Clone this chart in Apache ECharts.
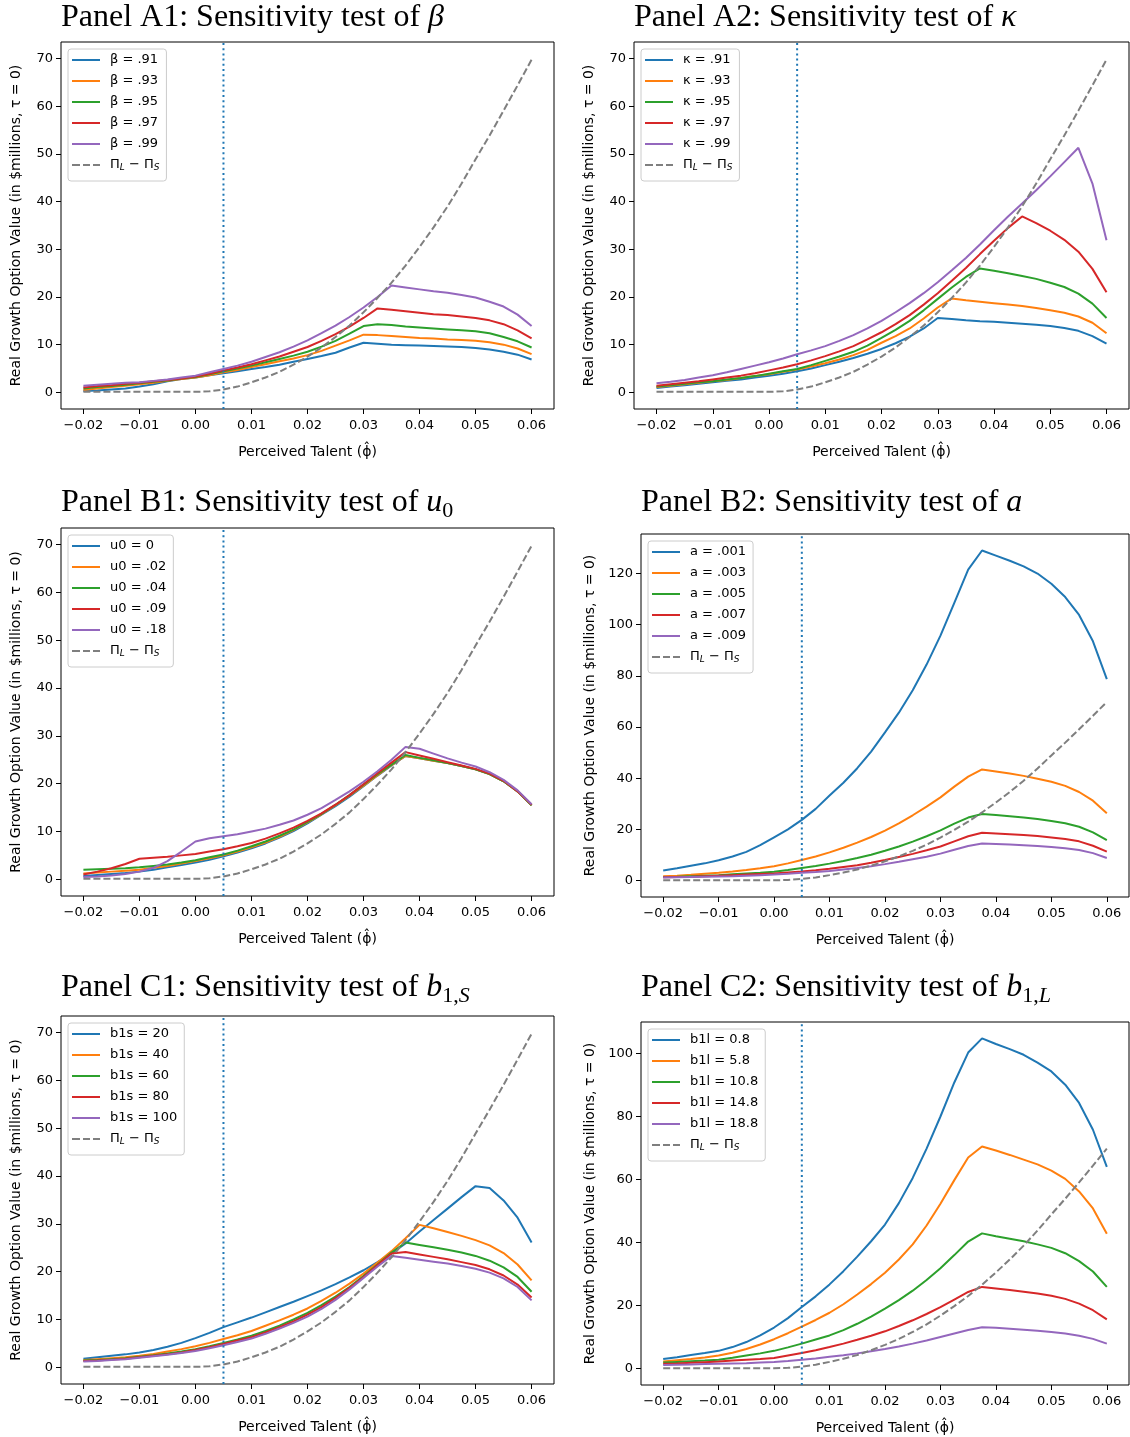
<!DOCTYPE html>
<html>
<head>
<meta charset="utf-8">
<script src="https://cdn.jsdelivr.net/npm/echarts@6/dist/echarts.min.js"></script>
<style>
  html, body { margin: 0; padding: 0; background: #fff; }
  #chart { width: 1130px; height: 1437px; }
</style>
</head>
<body>
<div id="chart"></div>
<script>
// Perceived talent grid (x values shared by every panel)
const X = [-0.02, -0.0175, -0.015, -0.0125, -0.01, -0.0075, -0.005, -0.0025, 0, 0.0025, 0.005,
           0.0075, 0.01, 0.0125, 0.015, 0.0175, 0.02, 0.0225, 0.025, 0.0275, 0.03, 0.0325,
           0.035, 0.0375, 0.04, 0.0425, 0.045, 0.0475, 0.05, 0.0525, 0.055, 0.0575, 0.06];
const X_TICKS = [-0.02, -0.01, 0, 0.01, 0.02, 0.03, 0.04, 0.05, 0.06];
const Y_TICKS_70 = [0, 10, 20, 30, 40, 50, 60, 70];
const Y_TICKS_120 = [0, 20, 40, 60, 80, 100, 120];
const Y_TICKS_100 = [0, 20, 40, 60, 80, 100];
const THRESHOLD = 0.005;

// Pi_L - Pi_S (same curve in every panel)
const PI_DIFF = [0.1, 0.1, 0.1, 0.1, 0.1, 0.1, 0.1, 0.1, 0.1, 0.2, 0.6,
                 1.2, 2.1, 3.1, 4.3, 5.8, 7.5, 9.4, 11.6, 14.0, 16.8, 19.8,
                 23.0, 26.6, 30.5, 34.6, 39.0, 43.8, 48.9, 53.9, 59.1, 64.4, 69.8];

// Panel A1: beta
const A1_LABELS = ['β = .91', 'β = .93', 'β = .95', 'β = .97', 'β = .99'];
const A1_B91 = [0.3,0.4,0.6,0.8,1.2,1.7,2.3,2.8,3.1,3.6,4.0, 4.4,4.9,5.3,5.8,6.4,7.0,7.6,8.3,9.4,10.4,10.2, 10.0,9.9,9.8,9.7,9.6,9.5,9.3,9.0,8.5,7.9,6.9];
const A1_B93 = [0.5,0.8,1.1,1.4,1.7,2.0,2.4,2.8,3.1,3.6,4.2, 4.7,5.3,5.9,6.5,7.1,7.8,8.7,9.8,10.9,12.1,12.0, 11.8,11.6,11.4,11.3,11.1,11.0,10.8,10.5,10.0,9.2,8.0];
const A1_B95 = [0.8,1.1,1.3,1.6,1.9,2.2,2.5,2.9,3.2,3.8,4.4, 5.0,5.6,6.3,7.0,7.7,8.5,9.6,10.8,12.3,13.9,14.3, 14.1,13.8,13.6,13.4,13.2,13.0,12.8,12.4,11.6,10.7,9.4];
const A1_B97 = [1.0,1.3,1.5,1.8,2.0,2.3,2.6,2.9,3.3,3.9,4.6, 5.2,5.9,6.7,7.5,8.5,9.5,10.8,12.2,13.8,15.6,17.6, 17.3,17.0,16.7,16.4,16.2,15.9,15.6,15.1,14.3,13.0,11.3];
const A1_B99 = [1.4,1.6,1.8,2.0,2.1,2.4,2.7,3.1,3.5,4.2,4.9, 5.6,6.4,7.4,8.4,9.6,10.9,12.4,14.0,15.8,17.8,20.0, 22.4,22.0,21.6,21.2,20.9,20.4,19.9,19.0,18.0,16.3,13.9];

// Panel A2: kappa
const A2_LABELS = ['κ = .91', 'κ = .93', 'κ = .95', 'κ = .97', 'κ = .99'];
const A2_K91 = [0.9,1.2,1.5,1.8,2.1,2.4,2.7,3.1,3.5,3.9,4.4, 5.0,5.7,6.4,7.2,8.1,9.1,10.3,11.7,13.4,15.6,15.4, 15.1,14.9,14.8,14.6,14.4,14.2,13.9,13.5,12.9,11.8,10.2];
const A2_K93 = [1.1,1.4,1.7,2.0,2.3,2.6,3.0,3.4,3.8,4.3,4.8, 5.4,6.1,6.9,7.8,8.9,10.4,11.8,13.4,15.5,17.8,19.7, 19.3,19.0,18.7,18.4,18.1,17.7,17.2,16.7,15.9,14.6,12.4];
const A2_K95 = [1.2,1.5,1.8,2.1,2.3,2.7,3.0,3.4,3.9,4.4,4.9, 5.7,6.6,7.5,8.5,9.8,11.4,13.1,15.0,17.2,19.6,22.0, 24.2,26.0,25.5,25.0,24.4,23.8,23.0,22.1,20.7,18.6,15.6];
const A2_K97 = [1.4,1.7,2.0,2.3,2.7,3.1,3.5,4.0,4.6,5.2,5.9, 6.7,7.6,8.6,9.7,11.1,12.6,14.3,16.2,18.4,20.8,23.4, 26.1,29.0,31.8,34.5,36.9,35.5,33.9,32.0,29.5,25.9,21.0];
const A2_K99 = [1.9,2.2,2.6,3.1,3.6,4.2,4.9,5.6,6.3,7.1,8.0, 8.8,9.7,10.8,12.0,13.4,15.0,16.8,18.7,20.8,23.1,25.6, 28.2,31.0,34.0,36.9,39.6,42.4,45.3,48.3,51.3,43.8,31.9];

// Panel B1: u0
const B1_LABELS = ['u0 = 0', 'u0 = .02', 'u0 = .04', 'u0 = .09', 'u0 = .18'];
const B1_U00 = [0.7,0.9,1.1,1.3,1.6,2.0,2.5,3.0,3.5,4.1,4.8, 5.6,6.5,7.5,8.7,10.1,11.7,13.5,15.3,17.3,19.5,21.7, 23.8,25.8,25.3,24.8,24.3,23.7,23.0,22.0,20.5,18.4,15.5];
const B1_U02 = [1.2,1.4,1.6,1.8,2.0,2.4,2.8,3.3,3.8,4.4,5.0, 5.8,6.7,7.7,8.9,10.3,11.9,13.6,15.5,17.5,19.6,21.8, 23.9,25.8,25.3,24.8,24.3,23.7,23.0,22.0,20.5,18.4,15.5];
const B1_U04 = [2.0,2.1,2.2,2.3,2.5,2.8,3.1,3.5,4.0,4.6,5.2, 6.0,6.9,7.9,9.1,10.4,12.0,13.7,15.6,17.6,19.8,22.0, 24.0,26.0,25.4,24.9,24.3,23.7,23.0,22.0,20.5,18.4,15.5];
const B1_U09 = [1.0,1.6,2.3,3.2,4.3,4.5,4.7,5.0,5.3,5.8,6.3, 6.9,7.6,8.5,9.6,10.8,12.2,13.8,15.6,17.6,19.9,22.2, 24.4,26.6,25.9,25.2,24.5,23.8,23.1,22.1,20.6,18.4,15.6];
const B1_U18 = [0.5,0.6,0.8,1.1,1.6,2.4,3.8,5.8,7.9,8.6,9.0, 9.4,10.0,10.6,11.4,12.3,13.5,14.9,16.6,18.4,20.4,22.6, 25.0,27.7,27.3,26.3,25.3,24.4,23.6,22.4,20.8,18.6,15.7];

// Panel B2: a
const B2_LABELS = ['a = .001', 'a = .003', 'a = .005', 'a = .007', 'a = .009'];
const B2_A001 = [3.9,4.8,5.8,6.7,7.9,9.4,11.2,13.8,16.9,20.0,23.7, 28.0,33.2,38.2,43.9,50.4,57.9,65.6,74.4,84.4,95.7,108.5, 121.5,129.0,127.0,125.0,122.8,120.0,116.0,110.8,103.8,93.5,78.7];
const B2_A003 = [1.7,1.9,2.2,2.6,3.0,3.5,4.1,4.8,5.6,6.7,8.0, 9.4,11.0,12.8,14.8,17.0,19.5,22.3,25.5,28.9,32.5,36.7, 40.6,43.4,42.6,41.8,40.9,39.8,38.6,37.0,34.6,31.2,26.3];
const B2_A005 = [1.4,1.5,1.7,1.9,2.1,2.4,2.7,3.0,3.4,4.1,4.9, 5.7,6.6,7.6,8.8,10.1,11.6,13.3,15.2,17.3,19.6,22.2, 24.6,26.0,25.6,25.1,24.6,24.0,23.3,22.4,21.0,18.8,15.8];
const B2_A007 = [1.3,1.4,1.5,1.7,1.9,2.1,2.3,2.5,2.7,3.1,3.5, 4.0,4.6,5.3,6.0,6.9,8.0,9.2,10.4,11.8,13.3,15.3, 17.3,18.7,18.4,18.1,17.8,17.4,16.8,16.2,15.3,13.6,11.3];
const B2_A009 = [1.2,1.3,1.4,1.5,1.6,1.7,1.9,2.1,2.3,2.6,3.0, 3.3,3.7,4.3,4.9,5.6,6.4,7.3,8.3,9.3,10.5,12.0, 13.5,14.5,14.3,14.1,13.8,13.5,13.1,12.6,11.9,10.7,8.8];

// Panel C1: b1s
const C1_LABELS = ['b1s = 20', 'b1s = 40', 'b1s = 60', 'b1s = 80', 'b1s = 100'];
const C1_S20 = [1.8,2.1,2.4,2.7,3.1,3.6,4.3,5.1,6.1,7.2,8.4, 9.4,10.4,11.5,12.6,13.7,14.9,16.1,17.4,18.8,20.3,22.0, 23.8,25.9,28.4,30.8,33.2,35.6,37.9,37.5,34.9,31.3,26.1];
const C1_S40 = [1.5,1.7,1.9,2.1,2.4,2.8,3.3,3.8,4.4,5.1,5.9, 6.7,7.6,8.7,9.8,11.0,12.3,13.9,15.6,17.5,19.6,21.9, 24.3,27.0,29.8,29.1,28.3,27.5,26.6,25.5,23.9,21.5,18.2];
const C1_S60 = [1.4,1.5,1.7,1.9,2.2,2.5,2.9,3.3,3.8,4.4,5.1, 5.8,6.6,7.6,8.7,10.0,11.4,13.0,14.8,16.8,19.1,21.5, 24.0,26.1,25.6,25.1,24.6,24.0,23.3,22.3,20.9,18.9,15.8];
const C1_S80 = [1.3,1.4,1.6,1.8,2.1,2.4,2.7,3.1,3.6,4.2,4.9, 5.6,6.3,7.3,8.4,9.6,11.0,12.6,14.5,16.6,18.9,21.4, 23.8,24.1,23.6,23.1,22.6,22.0,21.4,20.5,19.2,17.3,14.6];
const C1_S100 = [1.2,1.3,1.5,1.7,2.0,2.3,2.6,3.0,3.4,4.0,4.6, 5.3,6.0,7.0,8.1,9.3,10.6,12.2,14.1,16.3,18.7,21.1, 23.3,22.9,22.5,22.1,21.7,21.2,20.6,19.8,18.6,16.8,14.0];

// Panel C2: b1l
const C2_LABELS = ['b1l = 0.8', 'b1l = 5.8', 'b1l = 10.8', 'b1l = 14.8', 'b1l = 18.8'];
const C2_L08 = [3.0,3.6,4.3,4.9,5.6,6.8,8.4,10.5,13.0,16.0,19.5, 22.9,26.7,30.9,35.5,40.4,45.7,52.5,60.5,69.8,80.0,90.8, 100.3,104.8,103.0,101.4,99.6,97.1,94.3,90.1,84.3,75.8,64.0];
const C2_L58 = [2.2,2.6,3.0,3.5,4.1,5.0,6.2,7.6,9.3,11.2,13.3, 15.4,17.7,20.4,23.5,26.8,30.4,34.6,39.4,45.4,52.3,59.8, 67.0,70.5,69.2,67.8,66.3,64.8,62.8,60.2,56.2,50.8,42.8];
const C2_L108 = [1.9,2.1,2.3,2.5,2.8,3.4,4.1,4.8,5.6,6.7,7.9, 9.2,10.5,12.2,14.2,16.5,19.0,21.7,24.7,28.1,31.8,36.0, 40.3,42.9,42.0,41.2,40.4,39.4,38.3,36.6,34.1,30.8,25.9];
const C2_L148 = [1.5,1.6,1.8,2.0,2.2,2.5,2.8,3.0,3.3,4.1,4.9, 5.8,6.8,7.9,9.1,10.4,11.8,13.5,15.3,17.3,19.5,21.9, 24.3,25.9,25.4,24.9,24.4,23.8,23.1,22.1,20.6,18.5,15.6];
const C2_L188 = [1.1,1.2,1.3,1.4,1.5,1.6,1.7,1.9,2.1,2.4,2.8, 3.2,3.7,4.2,4.8,5.5,6.2,7.0,7.9,8.9,10.0,11.1, 12.2,13.1,12.9,12.6,12.3,12.0,11.6,11.1,10.4,9.4,7.9];

// ---- styling ----
const COLORS = ['#1f77b4', '#ff7f0e', '#2ca02c', '#d62728', '#9467bd'];
const DIFF_COLOR = '#7f7f7f';
const DIFF_NAME = 'ΠL − ΠS';
const SANS = 'DejaVu Sans';
const SERIF = 'Liberation Serif';
const INK = '#000';
// legend glyphs: a solid bar for the model curves, a dashed bar for Pi_L - Pi_S
const SOLID_ICON = 'rect';
const DASH_ICON = 'path://M0,0h8v2h-8z M11,0h7v2h-7z M21,0h7v2h-7z';

const panels = [
  { title: 'Panel A1: Sensitivity test of {m|β}', titleTop: -1,
    grid: { left: 61, top: 42, width: 493, height: 367 }, yMin: -3.5, yMax: 73.5, yTicks: Y_TICKS_70, yGap: 38,
    labels: A1_LABELS, values: [A1_B91, A1_B93, A1_B95, A1_B97, A1_B99] },
  { title: 'Panel A2: Sensitivity test of {m|κ}', titleTop: -1,
    grid: { left: 634, top: 42, width: 495, height: 367 }, yMin: -3.5, yMax: 73.5, yTicks: Y_TICKS_70, yGap: 38,
    labels: A2_LABELS, values: [A2_K91, A2_K93, A2_K95, A2_K97, A2_K99] },
  { title: 'Panel B1: Sensitivity test of {m|u}{s|0}', titleTop: 484,
    grid: { left: 61, top: 528, width: 493, height: 368 }, yMin: -3.5, yMax: 73.5, yTicks: Y_TICKS_70, yGap: 38,
    labels: B1_LABELS, values: [B1_U00, B1_U02, B1_U04, B1_U09, B1_U18] },
  { title: 'Panel B2: Sensitivity test of {m|a}', titleTop: 484,
    grid: { left: 641, top: 534, width: 488, height: 363 }, yMin: -6.45, yMax: 135.45, yTicks: Y_TICKS_120, yGap: 44,
    labels: B2_LABELS, values: [B2_A001, B2_A003, B2_A005, B2_A007, B2_A009] },
  { title: 'Panel C1: Sensitivity test of {m|b}{s|1,}{si|S}', titleTop: 969,
    grid: { left: 61, top: 1016, width: 493, height: 368 }, yMin: -3.5, yMax: 73.5, yTicks: Y_TICKS_70, yGap: 38,
    labels: C1_LABELS, values: [C1_S20, C1_S40, C1_S60, C1_S80, C1_S100] },
  { title: 'Panel C2: Sensitivity test of {m|b}{s|1,}{si|L}', titleTop: 969,
    grid: { left: 641, top: 1022, width: 488, height: 363 }, yMin: -5.24, yMax: 110.0, yTicks: Y_TICKS_100, yGap: 44,
    labels: C2_LABELS, values: [C2_L08, C2_L58, C2_L108, C2_L148, C2_L188] }
];

const fmtX = v => (v < 0 ? '\u2212' : '') + Math.abs(v).toFixed(2);
const tickFont = { fontFamily: SANS, fontSize: 13, color: INK };
const nameFont = { fontFamily: SANS, fontSize: 14, color: INK };

const option = {
  animation: false,
  backgroundColor: '#fff',
  title: [], grid: [], xAxis: [], yAxis: [], legend: [], series: []
};

panels.forEach((p, i) => {
  option.title.push({
    text: p.title,
    left: p.grid.left,
    top: p.titleTop,
    padding: 0,
    textStyle: {
      fontFamily: SERIF, fontSize: 32, fontWeight: 'normal', color: INK, lineHeight: 38,
      rich: {
        m: { fontFamily: SERIF, fontStyle: 'italic', fontSize: 32, lineHeight: 38, color: INK },
        s: { fontFamily: SERIF, fontSize: 22, lineHeight: 23, verticalAlign: 'bottom', color: INK },
        si: { fontFamily: SERIF, fontStyle: 'italic', fontSize: 22, lineHeight: 23, verticalAlign: 'bottom', color: INK }
      }
    }
  });

  option.grid.push(Object.assign({ show: true, borderColor: '#000', borderWidth: 1, containLabel: false }, p.grid));

  option.xAxis.push({
    type: 'value', gridIndex: i, min: -0.024, max: 0.064,
    splitLine: { show: false },
    axisLine: { show: false, onZero: false },
    axisTick: { show: true, length: 5, customValues: X_TICKS, lineStyle: { color: INK, width: 1 } },
    axisLabel: Object.assign({ customValues: X_TICKS, formatter: fmtX, margin: 10 }, tickFont),
    name: 'Perceived Talent (ϕ̂)', nameLocation: 'middle', nameGap: 36,
    nameTextStyle: nameFont
  });

  option.yAxis.push({
    type: 'value', gridIndex: i, min: p.yMin, max: p.yMax,
    splitLine: { show: false },
    axisLine: { show: false, onZero: false },
    axisTick: { show: true, length: 5, customValues: p.yTicks, lineStyle: { color: INK, width: 1 } },
    axisLabel: Object.assign({ customValues: p.yTicks, formatter: v => String(v), margin: 8 }, tickFont),
    name: 'Real Growth Option Value (in $millions, τ = 0)', nameLocation: 'middle', nameGap: p.yGap,
    nameTextStyle: nameFont
  });

  option.legend.push({
    orient: 'vertical',
    left: p.grid.left + 7, top: p.grid.top + 7,
    data: p.labels.map(n => ({ name: n, icon: SOLID_ICON })).concat([{ name: DIFF_NAME, icon: DASH_ICON }]),
    itemWidth: 28, itemHeight: 2, itemGap: 7,
    padding: [4, 7, 9, 4],
    backgroundColor: 'rgba(255,255,255,0.8)',
    borderColor: '#cccccc', borderWidth: 1, borderRadius: 3,
    selectedMode: false,
    formatter: name => name === DIFF_NAME ? '{t|Π}{sb|L}{t| − Π}{sb|S}' : name,
    textStyle: {
      fontFamily: SANS, fontSize: 13, color: INK, lineHeight: 14, padding: [0, 0, 0, 5],
      rich: {
        t: { fontFamily: SANS, fontSize: 13, color: INK, lineHeight: 14 },
        sb: { fontFamily: SANS, fontSize: 9, fontStyle: 'italic', color: INK, lineHeight: 6, verticalAlign: 'bottom' }
      }
    }
  });

  p.values.forEach((vals, k) => {
    option.series.push({
      type: 'line', name: p.labels[k], xAxisIndex: i, yAxisIndex: i,
      data: X.map((x, j) => [x, vals[j]]),
      symbol: 'none', showSymbol: false,
      color: COLORS[k],
      itemStyle: { color: COLORS[k] },
      lineStyle: { color: COLORS[k], width: 2 }
    });
  });

  option.series.push({
    type: 'line', name: DIFF_NAME, xAxisIndex: i, yAxisIndex: i,
    data: X.map((x, j) => [x, PI_DIFF[j]]),
    symbol: 'none', showSymbol: false,
    color: DIFF_COLOR,
    itemStyle: { color: DIFF_COLOR },
    lineStyle: { color: DIFF_COLOR, width: 2, type: [7, 3] }
  });

  // vertical dotted marker at the talent threshold, spanning the full axis height
  option.series.push({
    type: 'line', name: 'threshold', xAxisIndex: i, yAxisIndex: i,
    data: [[THRESHOLD, p.yMin], [THRESHOLD, p.yMax]],
    symbol: 'none', showSymbol: false, silent: true,
    lineStyle: { color: '#1f77b4', width: 2, type: [2, 3.2] }
  });
});

const chart = echarts.init(document.getElementById('chart'), null, { renderer: 'canvas' });
chart.setOption(option);
</script>
</body>
</html>
